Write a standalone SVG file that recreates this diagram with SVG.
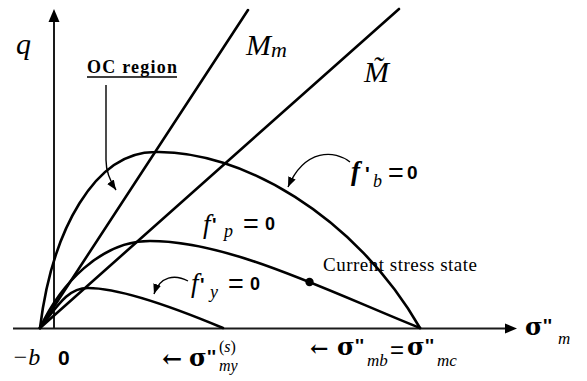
<svg xmlns="http://www.w3.org/2000/svg" width="587" height="381" viewBox="0 0 587 381">
<style>
.curve{fill:none;stroke:#000;stroke-width:2.6;stroke-linecap:round}
.axis{fill:none;stroke:#1a1a1a;stroke-width:2}
.ptr{fill:none;stroke:#000;stroke-width:1.4}
.mi{font-family:"Liberation Serif","Times New Roman",serif;font-style:italic;fill:#000}
.bs{font-family:"Liberation Sans",Arial,sans-serif;font-weight:bold;fill:#000}
.rs{font-family:"Liberation Sans",Arial,sans-serif;fill:#000}
.sg{font-family:"DejaVu Serif",serif;font-weight:bold;fill:#000}
.rm{font-family:"Liberation Serif","Times New Roman",serif;fill:#000}
</style>
<defs>
<marker id="ah" markerUnits="userSpaceOnUse" markerWidth="12" markerHeight="10" refX="10" refY="4" orient="auto">
<path d="M0,0 L10,4 L0,8 z" fill="#000"/>
</marker>
</defs>
<rect width="587" height="381" fill="#fff"/>

<g id="axes">
<line class="axis" x1="13" y1="328.5" x2="506" y2="328.5"/>
<path d="M517,328.5 L505,323.5 L505,333.5 z" fill="#000"/>
<line class="axis" x1="54" y1="328.5" x2="54" y2="21"/>
<path d="M54,9 L48.5,22 L59.5,22 z" fill="#000"/>
</g>

<g id="lines">
<line class="curve" x1="40" y1="328" x2="248" y2="10"/>
<line class="curve" x1="40" y1="328" x2="399" y2="9"/>
</g>

<g id="curves">
<path id="fb" class="curve" d="M40,328 C52,230 95,152 155,152 C240,150 355,215 420,328"/>
<path id="fp" class="curve" d="M40,328 C60,285 100,241 150,241 C230,241 330,292 420,328"/>
<path id="fy" class="curve" d="M40,328 C58,305 68,288 88,288 C120,288 180,310 223,328"/>
<circle cx="309.5" cy="282" r="4.2" fill="#000"/>
</g>

<g id="connectors">
<path class="ptr" d="M106,85 L106,160 C106,172 110,181 116,190" marker-end="url(#ah)"/>
<path class="ptr" d="M350,162 C335,150 305,148 288,187" marker-end="url(#ah)"/>
<path class="ptr" d="M188,281 C175,274 160,276 154,294" marker-end="url(#ah)"/>
</g>

<g id="labels">
<text class="mi" x="16" y="54" font-size="30">q</text>
<text class="mi" x="246" y="55" font-size="30">M<tspan font-size="22" dy="2">m</tspan></text>
<text class="mi" x="364" y="82" font-size="30">M̃</text>

<g id="oc-region">
<text class="rm" x="87" y="73" font-size="18" font-weight="bold" textLength="90" lengthAdjust="spacing">OC region</text>
<line x1="87" y1="77" x2="177" y2="77" stroke="#000" stroke-width="1.3"/>
</g>

<g id="fb-label">
<text class="mi" x="351" y="180" font-size="27" font-weight="bold">f</text>
<text class="bs" x="365" y="181" font-size="20">'</text>
<text class="mi" x="373" y="187" font-size="18">b</text>
<text class="rs" x="388" y="182" font-size="27">=</text>
<text class="bs" x="407" y="179" font-size="19">0</text>
</g>

<g id="fp-label">
<text class="mi" x="203" y="233" font-size="27">f</text>
<text class="bs" x="212" y="231" font-size="19">'</text>
<text class="mi" x="224" y="237" font-size="18">p</text>
<text class="rs" x="243" y="233" font-size="27">=</text>
<text class="bs" x="265" y="230" font-size="18">0</text>
</g>

<g id="fy-label">
<text class="mi" x="191" y="292" font-size="27">f</text>
<text class="bs" x="200" y="291" font-size="19">'</text>
<text class="mi" x="210" y="298" font-size="18">y</text>
<text class="rs" x="228" y="293" font-size="27">=</text>
<text class="bs" x="250" y="290" font-size="18">0</text>
</g>

<text class="rm" x="323" y="271" font-size="19" textLength="154" lengthAdjust="spacing">Current stress state</text>

<text class="mi" x="12" y="365" font-size="24">−b</text>
<text class="bs" x="58" y="365" font-size="21">0</text>

<g id="smy-label">
<text class="sg" x="162" y="367" font-size="24">←</text>
<text class="sg" x="189" y="366" font-size="24">σ</text>
<text class="bs" x="207" y="363" font-size="19">''</text>
<text class="rm" x="219" y="352" font-size="16">(<tspan class="mi">s</tspan>)</text>
<text class="mi" x="219" y="371" font-size="16">my</text>
</g>

<g id="smb-label">
<text class="sg" x="310" y="356" font-size="22">←</text>
<text class="sg" x="337" y="355" font-size="24">σ</text>
<text class="bs" x="355" y="352" font-size="19">''</text>
<text class="mi" x="367" y="366" font-size="17">mb</text>
<text class="rs" x="390" y="358" font-size="24">=</text>
<text class="sg" x="407" y="355" font-size="24">σ</text>
<text class="bs" x="425" y="352" font-size="19">''</text>
<text class="mi" x="437" y="366" font-size="17">mc</text>
</g>

<g id="sm-axis-label">
<text class="sg" x="525" y="335" font-size="24">σ</text>
<text class="bs" x="543" y="332" font-size="19">''</text>
<text class="mi" x="558" y="344" font-size="17">m</text>
</g>
</g>
</svg>
